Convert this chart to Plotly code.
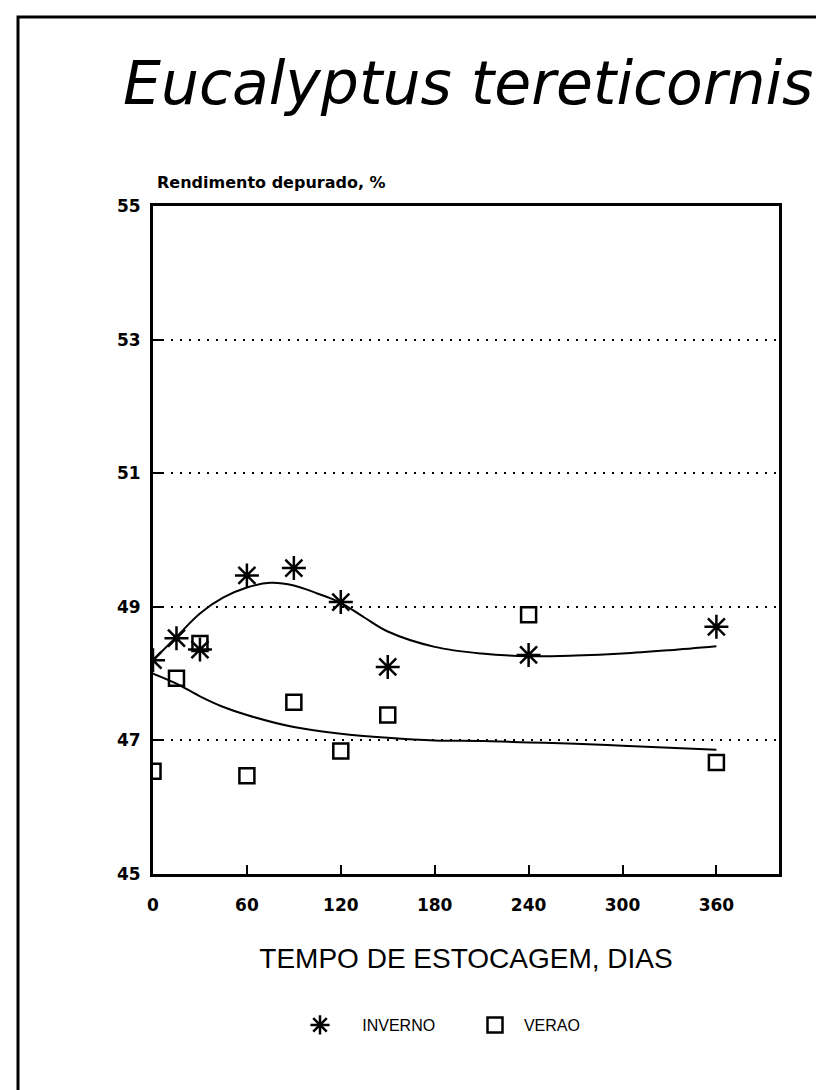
import plotly.graph_objects as go

# ---- data ----
dias = [0, 15, 30, 60, 90, 120, 150, 240, 360]
inverno = [48.20, 48.53, 48.36, 49.47, 49.58, 49.07, 48.10, 48.28, 48.70]
verao = [46.54, 47.93, 48.45, 46.47, 47.57, 46.84, 47.38, 48.88, 46.67]

# fitted curves
curva_x_inv = [0, 15, 30, 45, 60, 75, 90, 105, 120, 135, 150, 180, 210, 240, 270, 300, 330, 360]
curva_inv = [48.20, 48.55, 48.90, 49.14, 49.29, 49.36, 49.32, 49.20, 49.06, 48.84, 48.63, 48.40, 48.30, 48.26, 48.27, 48.30, 48.35, 48.41]
curva_x_ver = [0, 15, 30, 45, 60, 90, 120, 150, 180, 210, 240, 270, 300, 330, 360]
curva_ver = [48.00, 47.85, 47.66, 47.50, 47.38, 47.20, 47.10, 47.04, 47.00, 46.99, 46.97, 46.95, 46.92, 46.89, 46.86]

x_ticks = [0, 60, 120, 180, 240, 300, 360]
y_ticks = [45, 47, 49, 51, 53, 55]

titulo = "Eucalyptus tereticornis"
y_titulo = "Rendimento depurado, %"
x_titulo = "TEMPO DE ESTOCAGEM, DIAS"
nomes = ["INVERNO", "VERAO"]

W, H = 824, 1090
L, R, T, B = 145, 53, 198, 224
pw, ph = W - L - R, H - T - B

def px_x(p):
    return (p - L) / pw

def px_y(p):
    return (H - B - p) / ph

fig = go.Figure()

fig.add_trace(go.Scatter(x=curva_x_inv, y=curva_inv, mode="lines", line=dict(color="black", width=2, shape="spline"),
                         showlegend=False, hoverinfo="skip"))
fig.add_trace(go.Scatter(x=curva_x_ver, y=curva_ver, mode="lines", line=dict(color="black", width=2, shape="spline"),
                         showlegend=False, hoverinfo="skip"))

nb = "\u00a0"
fig.add_trace(go.Scatter(x=dias, y=inverno, mode="markers", name=nb * 5 + nomes[0],
                         marker=dict(symbol="asterisk-open", size=20, color="black", line=dict(color="black", width=2.5))))
fig.add_trace(go.Scatter(x=dias, y=verao, mode="markers", name=nb * 2 + nomes[1],
                         marker=dict(symbol="square-open", size=15, color="black", line=dict(color="black", width=2.5))))

fig.update_layout(
    width=W, height=H,
    margin=dict(l=L, r=R, t=T, b=B),
    paper_bgcolor="white", plot_bgcolor="white",
    showlegend=True,
    legend=dict(orientation="h", x=px_x(292), y=px_y(1017), xanchor="left", yanchor="middle",
                font=dict(family="Liberation Sans", size=16, color="black"),
                entrywidth=130, entrywidthmode="pixels", bgcolor="rgba(0,0,0,0)",
                itemsizing="trace"),
    xaxis=dict(range=[0, 400], tickvals=x_ticks, ticks="inside", ticklen=9, tickwidth=2, tickcolor="black",
               showline=True, linecolor="black", linewidth=3, mirror=True, showgrid=False, zeroline=False,
               tickfont=dict(family="DejaVu Sans", size=17, color="black", weight="bold"),
               ticklabelstandoff=14,
               title=dict(text=x_titulo, font=dict(family="Liberation Sans", size=28, color="black"), standoff=34)),
    yaxis=dict(range=[45, 55], tickvals=y_ticks, ticks="inside", ticklen=9, tickwidth=2, tickcolor="black",
               showline=True, linecolor="black", linewidth=3, mirror=True,
               showgrid=True, gridcolor="black", griddash="2px,7px", gridwidth=2, zeroline=False,
               tickfont=dict(family="DejaVu Sans", size=17, color="black", weight="bold"),
               ticklabelstandoff=6),
    annotations=[
        dict(text=titulo, xref="paper", yref="paper", x=px_x(460), y=px_y(75), xanchor="center", yanchor="middle",
             showarrow=False, font=dict(family="DejaVu Sans", size=60, color="black", style="italic", weight=300)),
        dict(text=y_titulo, xref="paper", yref="paper", x=px_x(147), y=px_y(175), xanchor="left", yanchor="middle",
             showarrow=False, font=dict(family="DejaVu Sans", size=16, color="black", weight="bold")),
    ],
    shapes=[
        dict(type="rect", xref="paper", yref="paper", x0=px_x(10), x1=px_x(840), y0=px_y(1086), y1=px_y(9),
             line=dict(color="black", width=3), fillcolor="rgba(0,0,0,0)", layer="below"),
    ],
)

fig.write_html("out.html")
